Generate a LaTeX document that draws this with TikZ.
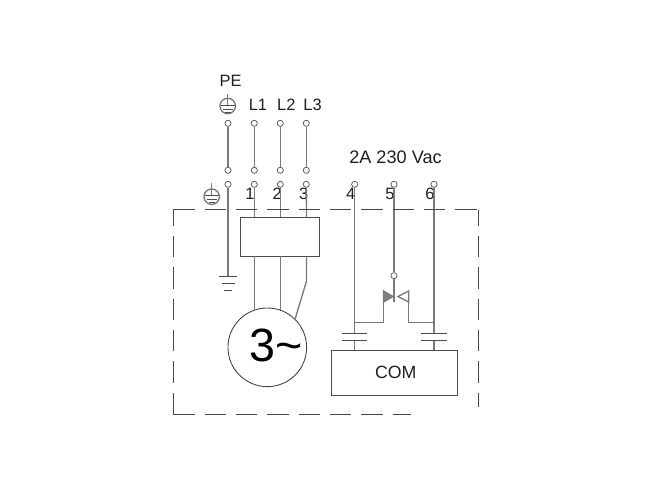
\documentclass[tikz,border=0pt]{standalone}
\usepackage{fontspec}
\setmainfont{Liberation Sans}
\usetikzlibrary{positioning}

\begin{document}
\begin{tikzpicture}
[x=0.75pt,y=-0.75pt,
line/.style={draw=black!52,line width=1pt},
thin line/.style={draw=black!70,line width=0.65pt},
box/.style={rectangle,draw=black!70,line width=0.75pt,inner sep=0pt},
terminal/.style={circle,draw=black!62,fill=white,line width=0.6pt,inner sep=0pt,minimum size=4.6pt},
border/.style={draw=black!72,line width=0.65pt,dash pattern=on 16pt off 7.5pt},
txt/.style={inner sep=0pt,text=black!88,font=\fontsize{12.3}{12.3}\selectfont}]
\useasboundingbox (0,0) rectangle (650,486);

\node[box,minimum width=59pt,minimum height=29.3pt] (relay) at (280.3,236.8) {};
\node[box,minimum width=94.5pt,minimum height=33.5pt] (com) at (394.3,372.7) {};
\node[circle,draw=black!75,line width=0.65pt,inner sep=0pt,minimum size=59pt] (motor) at (267.3,347.3) {};

\node[txt] (petext) at (230.5,81) {PE};
\node[txt] (l1text) at (258,104.5) {L1};
\node[txt] (l2text) at (286.3,104.5) {L2};
\node[txt] (l3text) at (312.5,104.5) {L3};
\node[txt,font=\fontsize{13.6}{13.6}\selectfont] (volts) at (395.5,157.7) {2A 230 Vac};
\node[txt] (n1) at (250,194) {1};
\node[txt] (n2) at (277.3,194) {2};
\node[txt] (n3) at (303.7,194) {3};
\node[txt] (n4) at (350.7,193.5) {4};
\node[txt] (n5) at (390,193.5) {5};
\node[txt] (n6) at (430,193.5) {6};
\node[txt,font=\fontsize{13.3}{13.3}\selectfont] (comtext) at (395.7,372) {COM};
\node[txt,text=black,font=\fontsize{35}{35}\selectfont] (three) at (276.5,345.5) {3\char`\~};

\node[terminal] (pe1) at (228,123.3) {};
\node[terminal] (pe2) at (228,170.3) {};
\node[terminal] (pe3) at (228,184.3) {};
\node[terminal] (l11) at (254.3,123.3) {};
\node[terminal] (l12) at (254.3,170.3) {};
\node[terminal] (l13) at (254.3,184.3) {};
\node[terminal] (l21) at (280.3,123.3) {};
\node[terminal] (l22) at (280.3,170.3) {};
\node[terminal] (l23) at (280.3,184.3) {};
\node[terminal] (l31) at (306.3,123.3) {};
\node[terminal] (l32) at (306.3,170.3) {};
\node[terminal] (l33) at (306.3,184.3) {};
\node[terminal] (t4) at (354.7,184.3) {};
\node[terminal] (t5) at (394,184.3) {};
\node[terminal] (t6) at (434,184.3) {};
\node[terminal] (t5b) at (394,275.7) {};

\coordinate (gnd) at (228,276);
\coordinate (bend) at (306.5,281);
\coordinate (rel1) at (254.3,217.3);
\coordinate (rel2) at (280.3,217.3);
\coordinate (rel3) at (306.5,217.3);
\coordinate (low1) at (254.3,256.3);
\coordinate (low2) at (280.3,256.3);
\coordinate (low3) at (306.5,256.3);
\coordinate (mot1) at (254.3,310.2);
\coordinate (mot2) at (280.3,310.2);
\coordinate (mot3) at (295,319.5);
\coordinate (cap4a) at (354.7,333.3);
\coordinate (cap4b) at (354.7,340);
\coordinate (cap6a) at (434,333.3);
\coordinate (cap6b) at (434,340);
\coordinate (com4) at (354.7,350.3);
\coordinate (com6) at (434,350.3);
\coordinate (join4) at (354.7,322.3);
\coordinate (join6) at (434,322.3);
\coordinate (tri4) at (383.5,322.3);
\coordinate (tri6) at (408.7,322.3);
\coordinate (blade) at (394,301.5);

\draw [line] (pe1) -- (pe2);
\draw [line] (l11) -- (l12);
\draw [line] (l21) -- (l22);
\draw [line] (l31) -- (l32);
\draw [line] (pe3) -- (gnd);
\draw [line] (l13) -- (rel1);
\draw [line] (l23) -- (rel2);
\draw [line] (l33) -- (rel3);
\draw [line] (low1) -- (mot1);
\draw [line] (low2) -- (mot2);
\draw [line] (low3) -- (bend) -- (mot3);
\draw [line] (t4) -- (cap4a);
\draw [line] (cap4b) -- (com4);
\draw [line] (t6) -- (cap6a);
\draw [line] (cap6b) -- (com6);
\draw [line] (t5) -- (t5b);
\draw [line] (t5b) -- (blade);
\draw [line] (join4) -- (tri4) -- (383.5,291);
\draw [line] (join6) -- (tri6) -- (408.7,291);

% contact
\draw [line,fill=black!50] (383.5,291) -- (393,296.5) -- (383.5,302) -- cycle;
\draw [line] (408.7,291) -- (398,296.5) -- (408.7,302) -- cycle;

% capacitors
\draw [thin line] (342,333.3) -- (367,333.3);
\draw [thin line] (342,340) -- (367,340);
\draw [thin line] (421.3,333.3) -- (446.7,333.3);
\draw [thin line] (421.3,340) -- (446.7,340);

% earth
\draw [thin line] (219,276) -- (237,276);
\draw [thin line] (221.5,283) -- (234.5,283);
\draw [thin line] (224,290) -- (232,290);

% PE symbols
\draw [line] (227.7,94) -- (227.7,105);
\draw [line] (227.7,106) circle (5.8pt);
\draw [thin line] (220.5,105) -- (235,105);
\draw [thin line] (222.5,109) -- (233,109);
\draw [thin line] (225,112) -- (230.5,112);
\draw [line] (211.7,182.7) -- (211.7,195);
\draw [line] (211.7,196.7) circle (5.8pt);
\draw [thin line] (204.5,195) -- (219,195);
\draw [thin line] (206.5,199) -- (217,199);
\draw [thin line] (209,202) -- (214.5,202);

% dashed casing
\draw [border] (173.3,209.7) -- (478,209.7);
\draw [border] (173.3,414) -- (173.3,209.7);
\draw [border,dash phase=3.9pt] (478,209.7) -- (478,406.6);
\draw [border] (173.3,414) -- (410.7,414);
\end{tikzpicture}
\end{document}
